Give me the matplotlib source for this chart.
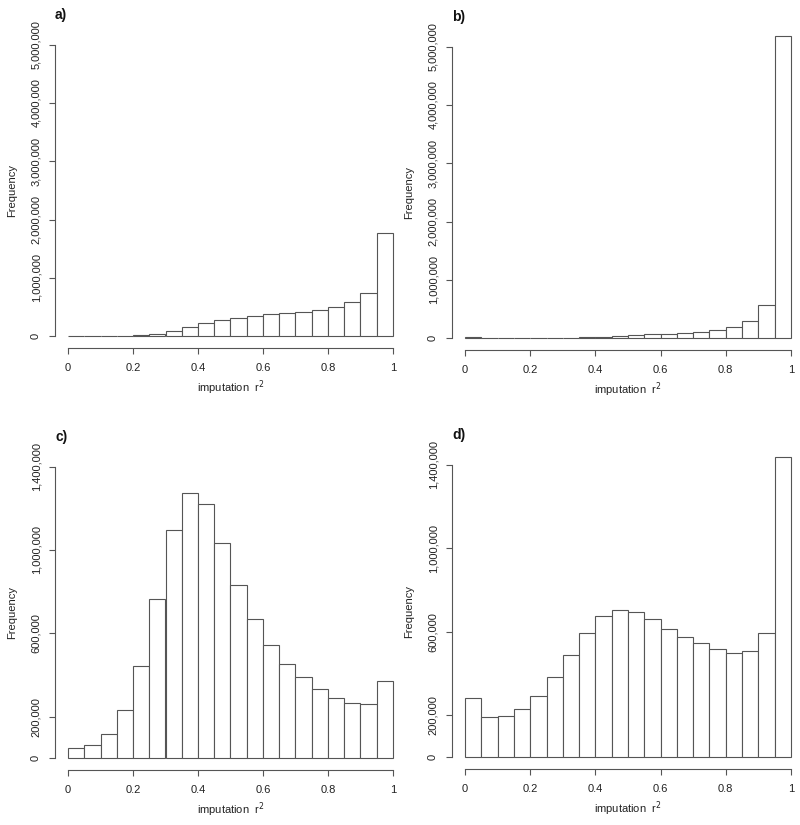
import matplotlib
matplotlib.use("Agg")
import matplotlib.pyplot as plt
import numpy as np

plt.rcParams['font.family'] = ['Liberation Sans', 'DejaVu Sans']

# bins de 0.05 entre 0 y 1
edges = np.linspace(0, 1, 21)

# frecuencias
freq_a = [0, 0, 0, 0, 17000, 45000, 90000, 160000, 235000, 285000,
          320000, 355000, 390000, 405000, 423000, 457000, 509000, 589000, 743000, 1771000]
freq_b = [15000, 0, 0, 0, 8000, 8000, 8000, 15000, 15000, 35000,
          57000, 75000, 80000, 97000, 115000, 143000, 190000, 290000, 571000, 5183000]
freq_c = [48000, 64000, 117000, 230000, 443000, 765000, 1096000, 1272000, 1219000, 1032000,
          830000, 669000, 542000, 453000, 390000, 333000, 290000, 266000, 259000, 370000]
freq_d = [282000, 195000, 198000, 229000, 291000, 382000, 491000, 595000, 674000, 707000,
          694000, 661000, 616000, 574000, 546000, 517000, 501000, 507000, 597000, 1438000]

yticks_top = [0, 1000000, 2000000, 3000000, 4000000, 5000000]
yticks_bottom = [0, 200000, 600000, 1000000, 1400000]
xticks = [0, 0.2, 0.4, 0.6, 0.8, 1]
xticklabels = ['0', '0.2', '0.4', '0.6', '0.8', '1']

W, H = 800, 825
fig = plt.figure(figsize=(W / 100, H / 100), dpi=100)
gris = '#555555'


def panel(freq, caja, ylim, yticks, letra):
    left, right, top, bottom = caja
    ax = fig.add_axes([left / W, 1 - bottom / H, (right - left) / W, (bottom - top) / H])
    ax.bar(edges[:-1], freq, width=0.05, align='edge', facecolor='white',
           edgecolor=gris, linewidth=0.8, clip_on=False)
    ax.set_xlim(-0.04, 1.04)
    ax.set_ylim(*ylim)

    for s in ['top', 'right']:
        ax.spines[s].set_visible(False)
    for s in ['left', 'bottom']:
        ax.spines[s].set_color(gris)
        ax.spines[s].set_linewidth(0.8)
    ax.spines['left'].set_bounds(yticks[0], yticks[-1])
    ax.spines['bottom'].set_bounds(0, 1)

    ax.set_xticks(xticks)
    ax.set_xticklabels(xticklabels)
    ax.set_yticks(yticks)
    ax.set_yticklabels(['{:,}'.format(v) for v in yticks], rotation=90, va='center')
    ax.tick_params(direction='out', length=4, width=0.8, color=gris,
                   labelsize=8, labelcolor='#222222')
    ax.tick_params(axis='x', pad=7)
    ax.tick_params(axis='y', pad=6)

    # textos de ejes y letra del panel
    cx = (left + right) / 2
    cy = (top + bottom) / 2
    fig.text(cx / W, 1 - (bottom + 40) / H, 'imputation  r$^2$', ha='center', va='center',
             fontsize=8, color='#222222')
    fig.text((left - 43) / W, 1 - cy / H, 'Frequency', rotation=90, ha='center', va='center',
             fontsize=8, color='#222222')
    fig.text(left / W, 1 - (top - 18) / H, letra, ha='left', va='center',
             fontsize=10, fontweight='bold', color='#111111')
    return ax


panel(freq_a, (55, 406, 33, 348), (-200000, 5200000), yticks_top, 'a)')
panel(freq_b, (452, 804, 35, 350), (-200000, 5200000), yticks_top, 'b)')
panel(freq_c, (55, 406, 455, 770), (-56000, 1456000), yticks_bottom, 'c)')
panel(freq_d, (452, 804, 453, 769), (-56000, 1456000), yticks_bottom, 'd)')

fig.savefig('out.png', dpi=100, facecolor='white')
